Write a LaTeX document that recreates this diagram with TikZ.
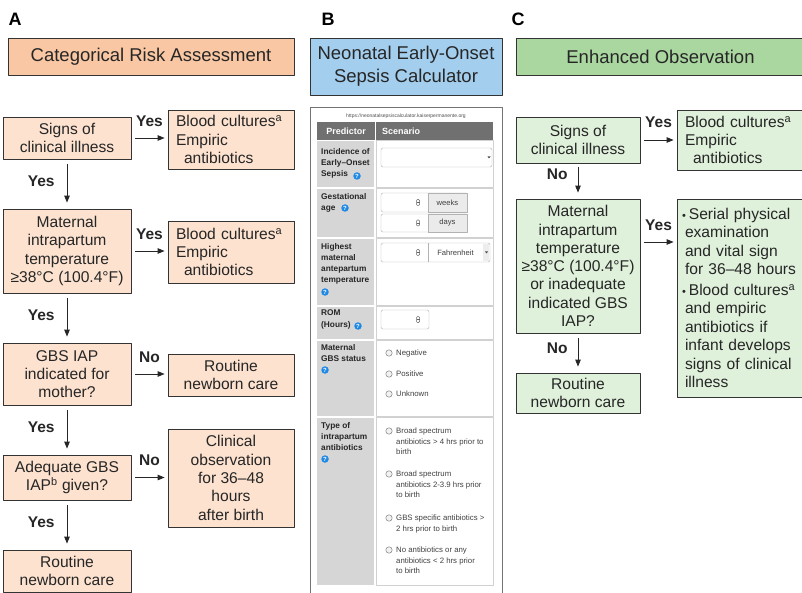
\documentclass[tikz,border=0pt]{standalone}
\usepackage{fontspec}
\setmainfont{Liberation Sans}
\usetikzlibrary{arrows.meta}

\definecolor{peachhd}{RGB}{249,199,163}
\definecolor{peachlt}{RGB}{252,226,207}
\definecolor{bluehd}{RGB}{163,206,238}
\definecolor{greenhd}{RGB}{170,214,160}
\definecolor{greenlt}{RGB}{223,240,219}
\definecolor{calchd}{RGB}{112,112,112}
\definecolor{calcl}{RGB}{214,214,214}
\definecolor{qblue}{RGB}{30,136,229}

\begin{document}
\begin{tikzpicture}[x=1pt, y=-1pt, line join=round,
  panel/.style={font=\fontsize{18}{20}\bfseries, inner sep=0pt},
  hdr/.style={draw=black!80, line width=0.8pt, align=center, inner sep=0pt, text=black!85,
    font=\fontsize{18.5}{23}\selectfont},
  box/.style={draw=black!80, line width=0.8pt, align=center, inner sep=0pt, text=black!85,
    font=\fontsize{15.6}{18.3}\selectfont},
  lbox/.style={box, align=left, inner xsep=8pt},
  flow/.style={-{Triangle[length=7pt,width=5.5pt]}, line width=0.9pt, black!85,
    shorten <=4pt, shorten >=3pt},
  down/.style={flow, shorten <=5pt, shorten >=6pt},
  lbl/.style={font=\fontsize{15.5}{18}\bfseries, inner sep=0pt, text=black!85},
  calhd/.style={font=\fontsize{9}{10}\bfseries, text=white, inner sep=0pt},
  calk/.style={anchor=north west, align=left, inner sep=0pt, text=black!85,
    font=\fontsize{8.3}{11.2}\bfseries},
  opt/.style={anchor=north west, align=left, inner sep=0pt, text=black!75,
    font=\fontsize{7.8}{10.7}\selectfont},
  unit/.style={inner sep=0pt, text=black!75, font=\fontsize{7.6}{9}\selectfont},
  qm/.style={circle, fill=qblue, inner sep=0pt, minimum size=7.5pt, text=white,
    font=\fontsize{6}{6}\bfseries},
  inp/.style={draw=black!30, fill=white, rounded corners=1.5pt},
  addon/.style={draw=black!30, fill=black!8}]

  %% ════ 面板字母 ════
  \node[panel] (pA) at (15,19) {A};
  \node[panel] (pB) at (328,19) {B};
  \node[panel] (pC) at (518,19) {C};

  %% ════ A：分类风险评估 ════
  \node[hdr, fill=peachhd, minimum width=286, minimum height=37] (hA) at (151,56.5) {Categorical Risk Assessment};

  \node[box, fill=peachlt, minimum width=128, minimum height=42] (a1) at (67,138) {Signs of\\clinical illness};
  \node[lbox, fill=peachlt, text width=110, minimum height=59] (b1) at (231,139.5) {Blood cultures\textsuperscript{a}\\Empiric\\\hspace*{8pt}antibiotics};
  \node[box, fill=peachlt, minimum width=128, minimum height=84] (a2) at (67,251) {Maternal\\intrapartum\\temperature\\≥38°C (100.4°F)};
  \node[lbox, fill=peachlt, text width=110, minimum height=62] (b2) at (231,252) {Blood cultures\textsuperscript{a}\\Empiric\\\hspace*{8pt}antibiotics};
  \node[box, fill=peachlt, minimum width=128, minimum height=62] (a3) at (67,374) {GBS IAP\\indicated for\\mother?};
  \node[box, fill=peachlt, minimum width=126, minimum height=42] (b3) at (231,375) {Routine\\newborn care};
  \node[box, fill=peachlt, minimum width=128, minimum height=45] (a4) at (67,477.5) {Adequate GBS\\IAP\textsuperscript{b} given?};
  \node[box, fill=peachlt, minimum width=126, minimum height=98] (b4) at (231,478) {Clinical\\observation\\for 36–48\\hours\\after birth};
  \node[box, fill=peachlt, minimum width=128, minimum height=42] (a5) at (67,571) {Routine\\newborn care};

  \draw[flow] (a1.east) -- (a1.east -| b1.west) node[lbl, midway, above=11pt] (ya1) {Yes};
  \draw[flow] (a2.east) -- (a2.east -| b2.west) node[lbl, midway, above=11pt] (ya2) {Yes};
  \draw[flow] (a3.east) -- (a3.east -| b3.west) node[lbl, midway, above=11pt] (na3) {No};
  \draw[flow] (a4.east) -- (a4.east -| b4.west) node[lbl, midway, above=11pt] (na4) {No};
  \draw[down] (a1) -- (a2) node[lbl, pos=0.44, left=12pt] (yd1) {Yes};
  \draw[down] (a2) -- (a3) node[lbl, pos=0.44, left=12pt] (yd2) {Yes};
  \draw[down] (a3) -- (a4) node[lbl, pos=0.44, left=12pt] (yd3) {Yes};
  \draw[down] (a4) -- (a5) node[lbl, pos=0.44, left=12pt] (yd4) {Yes};

  %% ════ B：计算器 ════
  \node[hdr, fill=bluehd, minimum width=192, minimum height=57] (hB) at (406,66.5) {Neonatal Early-Onset\\Sepsis Calculator};

  \draw[black!55, line width=1pt] (310,600) -- (310,108) -- (502,108) -- (502,600);
  \node[inner sep=0pt, text=black!70, font=\fontsize{5}{6}\selectfont] (url) at (406,116) {https://neonatalsepsiscalculator.kaiserpermanente.org};
  \fill[calchd] (317,122) rectangle (493,140);
  \draw[white, line width=1pt] (375,122) -- (375,140);
  \node[calhd] (pred) at (346,131) {Predictor};
  \node[calhd, anchor=west] (scen) at (382,131) {Scenario};

  % 行：上沿/下沿
  \foreach \t/\b in {140/187, 188/237, 238/305, 306/339, 340/416, 417/585} {
    \fill[calcl] (317,\t+1) rectangle (374,\b);
    \draw[black!18] (376,\t+0.5) rectangle (493,\b);
  }

  \node[calk] (k1) at (321,148) {Incidence of\\Early–Onset\\Sepsis};
  \node[calk] (k2) at (321,193) {Gestational\\age};
  \node[calk] (k3) at (321,243) {Highest\\maternal\\antepartum\\temperature};
  \node[calk] (k4) at (321,310) {ROM\\(Hours)};
  \node[calk] (k5) at (321,344) {Maternal\\GBS status};
  \node[calk] (k6) at (321,422) {Type of\\intrapartum\\antibiotics};
  \node[qm] (q1) at (357,176) {?};
  \node[qm] (q2) at (345,208) {?};
  \node[qm] (q3) at (325,292) {?};
  \node[qm] (q4) at (358,326) {?};
  \node[qm] (q5) at (325,370) {?};
  \node[qm] (q6) at (325,459) {?};

  % 输入框
  \draw[inp] (381,148) rectangle (492,167);
  \fill[black!70] (487.5,156.5) -- (490.5,156.5) -- (489,158.5) -- cycle;
  \draw[inp] (381,193) rectangle (467,212);
  \draw[addon] (428,193) rectangle (467,212);
  \node[unit] (wk) at (447.5,202.5) {weeks};
  \draw[inp] (381,214) rectangle (467,232);
  \draw[addon] (428,214) rectangle (467,232);
  \node[unit] (dy) at (447.5,223) {days};
  \draw[inp] (381,243) rectangle (490,262);
  \draw[black!30] (428,243) -- (428,262);
  \fill[black!7] (483,243.6) rectangle (489.4,261.4);
  \node[unit] (fh) at (455.5,252.5) {Fahrenheit};
  \fill[black!70] (485,251.5) -- (488,251.5) -- (486.5,253.5) -- cycle;
  \draw[inp] (381,310) rectangle (429,329);
  \foreach \y in {202.5, 223, 252.5, 319.5} {
    \draw[black!60, line width=0.5pt, rounded corners=1pt] (416.5,\y-3) rectangle (419.5,\y+3);
    \draw[black!60, line width=0.4pt] (416.5,\y) -- (419.5,\y);
  }

  % 单选项
  \foreach \y in {353, 374, 394, 431, 474, 518, 550}
    \draw[black!50, fill=black!5, line width=0.5pt] (389,\y) circle (3.2pt);
  \node[opt] (o1) at (396,349.5) {Negative};
  \node[opt] (o2) at (396,370.5) {Positive};
  \node[opt] (o3) at (396,390.5) {Unknown};
  \node[opt] (o4) at (396,427.5) {Broad spectrum\\antibiotics > 4 hrs prior to\\birth};
  \node[opt] (o5) at (396,470.5) {Broad spectrum\\antibiotics 2-3.9 hrs prior\\to birth};
  \node[opt] (o6) at (396,514.5) {GBS specific antibiotics >\\2 hrs prior to birth};
  \node[opt] (o7) at (396,546.5) {No antibiotics or any\\antibiotics < 2 hrs prior\\to birth};

  %% ════ C：加强观察 ════
  \node[hdr, fill=greenhd, minimum width=289, minimum height=37] (hC) at (660.5,56.5) {Enhanced Observation};

  \node[box, fill=greenlt, minimum width=124, minimum height=46] (c1) at (578,140) {Signs of\\clinical illness};
  \node[lbox, fill=greenlt, text width=112, minimum height=60] (d1) at (741,140) {Blood cultures\textsuperscript{a}\\Empiric\\\hspace*{8pt}antibiotics};
  \node[box, fill=greenlt, minimum width=124, minimum height=134] (c2) at (578,266) {Maternal\\intrapartum\\temperature\\≥38°C (100.4°F)\\or inadequate\\indicated GBS\\IAP?};
  \node[lbox, fill=greenlt, text width=112, minimum height=198, font=\fontsize{15.6}{18.5}\selectfont] (d2) at (741,298)
    {\hspace*{-3pt}{\fontsize{11}{11}\selectfont\textbullet}\hspace{3pt}Serial physical\\examination\\and vital sign\\for 36–48 hours\\[2pt]
     \hspace*{-3pt}{\fontsize{11}{11}\selectfont\textbullet}\hspace{3pt}Blood cultures\textsuperscript{a}\\and empiric\\antibiotics if\\infant develops\\signs of clinical\\illness};
  \node[box, fill=greenlt, minimum width=124, minimum height=40] (c3) at (578,393) {Routine\\newborn care};

  \coordinate (c2y) at ([yshift=24pt]c2.east);
  \draw[flow] (c1.east) -- (c1.east -| d1.west) node[lbl, midway, above=12pt] (yc1) {Yes};
  \draw[flow] (c2y) -- (c2y -| d2.west) node[lbl, midway, above=11pt] (yc2) {Yes};
  \draw[down, shorten <=4pt] (c1) -- (c2) node[lbl, pos=0.3, left=10pt] (nc1) {No};
  \draw[down] (c2) -- (c3) node[lbl, pos=0.38, left=10pt] (nc2) {No};

  % 钉死画布
  \pgfresetboundingbox
  \path[use as bounding box] (0,0) rectangle (802,593);
\end{tikzpicture}
\end{document}
